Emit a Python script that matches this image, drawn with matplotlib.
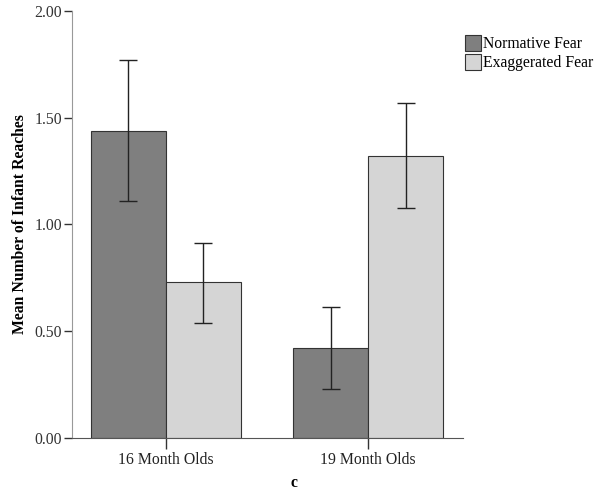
import numpy as np
import matplotlib
matplotlib.use("Agg")
from matplotlib import pyplot as plt

plt.rcParams['font.family'] = ['Liberation Serif', 'DejaVu Serif']

#Chart data
groups = ["16 Month Olds", "19 Month Olds"]
seriesNames = ["Normative Fear", "Exaggerated Fear"]
normMeans = [1.44, 0.42]
normLow = [1.11, 0.23]
normHigh = [1.77, 0.615]
exagMeans = [0.73, 1.32]
exagLow = [0.54, 1.075]
exagHigh = [0.915, 1.57]
yTicks = [0.0, 0.5, 1.0, 1.5, 2.0]

fig = plt.figure(figsize=(6.0, 4.94), dpi=100)
ax = fig.add_axes([0.12, 0.1134, 0.6517, 0.8643])

x = np.arange(len(groups))
width = 0.371
colours = ["#7f7f7f", "#d5d5d5"]
fs = 11.3

for i, (means, low, high) in enumerate([(normMeans, normLow, normHigh), (exagMeans, exagLow, exagHigh)]):
    pos = x + (i - 0.5) * width
    means = np.array(means)
    err = [means - np.array(low), np.array(high) - means]
    ax.bar(pos, means, width, color=colours[i], edgecolor="#333333", linewidth=0.8, label=seriesNames[i])
    ax.errorbar(pos, means, yerr=err, fmt="none", ecolor="#222222", elinewidth=1.0, capsize=6.5, capthick=1.0)

ax.set_xlim(-0.465, 1.47)
ax.set_ylim(0, 2.0)
ax.set_xticks(x)
ax.set_xticklabels(groups, fontsize=fs, color="#222222")
ax.set_yticks(yTicks)
ax.set_yticklabels(["%.2f" % t for t in yTicks], fontsize=fs, color="#333333")
ax.tick_params(axis="x", direction="out", length=8, width=1, color="#333333", pad=2)
ax.tick_params(axis="y", direction="out", length=6, width=1, color="#333333", pad=1)
ax.spines["top"].set_visible(False)
ax.spines["right"].set_visible(False)
ax.spines["left"].set_color("#999999")
ax.spines["bottom"].set_color("#555555")
ax.set_ylabel("Mean Number of Infant Reaches", fontsize=fs, fontweight="bold", labelpad=5)

fig.text(0.49, 0.022, "c", fontsize=fs, fontweight="bold", ha="center", va="center")

leg = fig.legend(loc="upper left", bbox_to_anchor=(0.765, 0.942), frameon=False, fontsize=fs,
                 handlelength=1.0, handleheight=1.2, handletextpad=0.12, labelspacing=0.1, borderaxespad=0)

fig.savefig("out.png", dpi=100)
